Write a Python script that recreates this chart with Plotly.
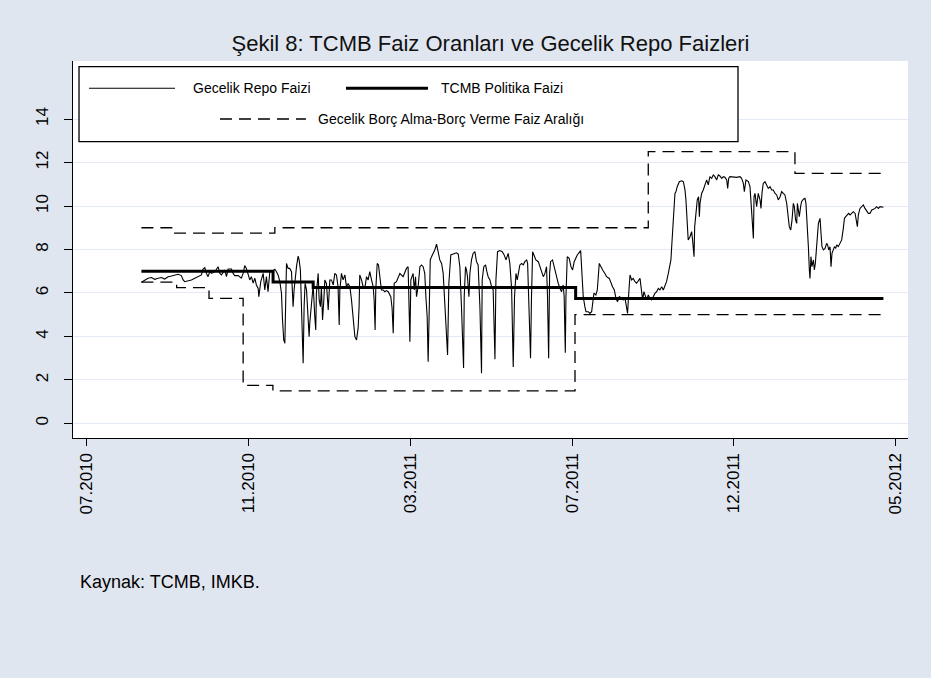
import plotly.graph_objects as go

# ---------------- data ----------------
tick_pos = [0, 100, 200, 300, 400, 500]
tick_labels = ["07.2010", "11.2010", "03.2011", "07.2011", "12.2011", "05.2012"]
y_ticks = [0, 2, 4, 6, 8, 10, 12, 14]

# TCMB policy rate (step)
policy_day = [33.7, 115.1, 139.9, 302.2, 492.5]
policy_rate = [7.0, 6.5, 6.25, 5.75, 5.75]

# Overnight lending (upper) / borrowing (lower) corridor (step)
upper_day = [33.7, 54.3, 116.2, 347.1, 437.8, 492.5]
upper_rate = [9.0, 8.75, 9.0, 12.5, 11.5, 11.5]
lower_day = [33.7, 55.5, 75.5, 96.6, 115.0, 301.8, 492.5]
lower_rate = [6.5, 6.25, 5.75, 1.75, 1.5, 5.0, 5.0]

# Overnight repo rate (trading-day index, %)
repo_obs = [
    (33.7, 6.49), (35.8, 6.60), (37.8, 6.68), (39.9, 6.71), (41.9, 6.63), (44.0, 6.68), (46.1, 6.71),
    (48.1, 6.64), (50.2, 6.75), (52.3, 6.78), (54.3, 6.83), (56.4, 6.86), (58.4, 6.80), (59.5, 6.60),
    (60.5, 6.52), (62.6, 6.55), (64.6, 6.60), (66.7, 6.68), (68.7, 6.75), (70.8, 6.83), (71.8, 7.10),
    (72.9, 7.16), (73.9, 6.90), (74.9, 6.75), (76.0, 6.98), (77.0, 6.90), (79.1, 6.98), (81.1, 7.21),
    (82.2, 6.90), (83.2, 6.83), (85.2, 7.06), (86.3, 6.75), (87.3, 7.10), (89.4, 7.10), (90.4, 6.90),
    (91.4, 6.80), (93.5, 6.80), (95.5, 6.68), (96.6, 6.90), (97.6, 7.26), (98.6, 7.13), (99.7, 6.83),
    (100.7, 6.60), (101.7, 6.75), (102.8, 6.45), (103.8, 6.68), (104.8, 6.37), (105.9, 6.21),
    (106.3, 5.83), (107.5, 6.52),
    (109.0, 6.90), (110.0, 6.14), (111.0, 6.75), (112.0, 6.06), (113.1, 6.98), (115.1, 7.03),
    (116.2, 7.09), (117.2, 6.98), (118.2, 6.83), (119.3, 6.52), (120.3, 5.99), (120.9, 4.84),
    (121.7, 3.84), (122.4, 3.69), (123.0, 5.37), (123.4, 7.36), (124.4, 7.13), (125.4, 7.13),
    (126.5, 6.98), (127.5, 5.37), (128.1, 6.14), (129.0, 6.90), (129.6, 7.21), (130.6, 7.70),
    (131.2, 7.52), (132.0, 7.06), (132.7, 5.55), (133.3, 4.61), (133.7, 2.77), (134.3, 5.37),
    (134.9, 6.44), (135.8, 6.14), (136.8, 5.07), (137.4, 3.99), (137.8, 4.61), (138.8, 5.68),
    (139.9, 6.37), (140.9, 4.91), (141.5, 4.30), (141.9, 5.99), (143.0, 6.90), (143.6, 5.68),
    (144.4, 5.37), (145.0, 6.29), (145.7, 4.76), (146.5, 5.68), (147.1, 6.60), (148.1, 6.44),
    (149.2, 5.22), (150.2, 6.60), (151.2, 6.60), (152.3, 6.37), (153.3, 6.90), (154.3, 6.83),
    (155.3, 6.29), (156.0, 4.53), (156.4, 6.14), (157.4, 6.90), (158.4, 6.60), (159.5, 6.83),
    (160.5, 6.29), (161.5, 6.44), (162.6, 6.29), (163.6, 5.68), (164.6, 4.76), (165.7, 3.99),
    (166.7, 3.84), (167.7, 4.38), (168.3, 5.37), (168.7, 6.83), (169.8, 6.60), (170.8, 6.29),
    (171.8, 6.21), (172.9, 6.75), (173.9, 6.60), (174.9, 6.98), (176.0, 6.60), (177.0, 6.29),
    (177.6, 5.68), (178.2, 4.30), (178.6, 6.14), (179.5, 7.36), (180.3, 7.29), (181.1, 6.60),
    (182.1, 6.14), (183.2, 6.14), (184.2, 6.06),
    (185.2, 6.11), (186.3, 6.06), (187.9, 5.83), (188.7, 5.30), (189.4, 4.15), (190.0, 6.45),
    (191.4, 6.52), (193.5, 6.90), (195.5, 6.75), (196.6, 6.98), (197.6, 7.13), (198.6, 7.21),
    (199.1, 5.68), (199.7, 3.76), (200.3, 6.60), (201.7, 6.90), (202.4, 6.14), (203.2, 6.75),
    (203.8, 5.83), (204.8, 6.29), (205.9, 7.21), (206.9, 7.29), (207.9, 7.21), (208.9, 6.90),
    (209.6, 5.83), (210.4, 4.91), (211.0, 2.84), (211.6, 6.14), (212.3, 7.52), (213.1, 7.67),
    (214.1, 7.82), (215.1, 7.98), (216.2, 8.25), (217.2, 7.82), (218.2, 7.52), (219.3, 7.36),
    (220.3, 6.90), (221.3, 5.52), (222.4, 3.99), (223.0, 3.15), (223.8, 6.45), (225.0, 7.75),
    (226.5, 7.79), (227.5, 7.82), (228.5, 7.85), (229.6, 7.79), (230.6, 7.21), (231.6, 5.37),
    (232.2, 4.30), (232.9, 2.55), (233.3, 5.83), (234.1, 7.21), (234.7, 7.06), (235.3, 6.75),
    (236.2, 5.83), (236.8, 6.90), (237.8, 7.52), (238.8, 7.82), (239.9, 7.90), (240.9, 7.44),
    (241.9, 7.29), (243.0, 5.37), (244.0, 2.31), (244.4, 6.60), (245.4, 7.21), (246.5, 7.29),
    (247.3, 6.98), (248.1, 6.75), (249.2, 6.60), (250.2, 6.29), (251.2, 6.14), (251.8, 4.76),
    (252.3, 2.95), (252.9, 6.60), (253.9, 7.90), (255.3, 7.95), (256.8, 7.90), (258.0, 7.75),
    (259.1, 7.52), (260.5, 7.82), (261.5, 7.36), (262.6, 6.21), (263.6, 2.60),
    (264.4, 5.83), (265.3, 6.90), (266.1, 6.60), (266.9, 7.06), (267.7, 7.29), (268.8, 7.36),
    (269.8, 7.29), (270.8, 7.44), (271.9, 7.52), (272.5, 7.36), (273.1, 5.83), (273.9, 4.30),
    (274.3, 3.00), (274.9, 5.83), (275.6, 7.90), (276.4, 7.75), (277.6, 7.52), (279.1, 7.44),
    (280.1, 7.21), (281.1, 7.06), (282.2, 6.75), (283.2, 6.90), (284.2, 7.21), (284.8, 5.83),
    (285.5, 3.00), (286.1, 6.90), (286.7, 7.44), (287.9, 7.52), (288.8, 7.21), (289.4, 6.98),
    (290.4, 6.75), (291.4, 6.45), (292.5, 6.21), (293.5, 6.06), (294.5, 6.37), (295.1, 5.83),
    (295.8, 3.25), (296.2, 5.83), (297.0, 7.67), (298.2, 7.59), (299.3, 7.21), (300.3, 7.06),
    (301.3, 7.44), (302.2, 7.59), (303.2, 7.75), (305.3, 7.95), (305.9, 7.06), (306.9, 5.83),
    (307.9, 5.37), (308.6, 5.14), (310.0, 5.14), (311.0, 5.06), (312.1, 5.14), (312.7, 5.68),
    (313.5, 5.99), (314.7, 5.91), (315.6, 6.14), (316.8, 7.36), (317.6, 7.21), (318.9, 7.06),
    (320.3, 6.90), (321.3, 6.75), (323.0, 6.67), (324.0, 6.45), (325.0, 6.29), (326.1, 6.14),
    (327.1, 5.76), (328.1, 5.60), (329.2, 5.83), (330.6, 5.76), (331.6, 5.68), (332.7, 5.76),
    (333.7, 5.22), (334.3, 5.06), (334.9, 5.83), (335.8, 6.83), (336.8, 6.60), (337.8, 6.67),
    (338.9, 6.52), (339.9, 6.45),
    (342.0, 6.67), (343.0, 6.14), (343.6, 5.68), (344.4, 6.06), (345.2, 5.83), (346.1, 5.68),
    (347.1, 5.91), (348.1, 5.76), (349.2, 5.68), (350.2, 5.83), (351.2, 5.98), (352.3, 6.06),
    (353.3, 6.21), (354.3, 6.14), (355.4, 6.29), (356.4, 6.14), (357.4, 6.37), (358.4, 6.52),
    (359.5, 6.90), (360.5, 7.21), (361.1, 7.52), (361.7, 8.28), (362.2, 9.05), (363.0, 9.82),
    (363.6, 10.58), (364.2, 10.66), (365.0, 10.89), (366.3, 11.12), (367.7, 11.16), (368.8, 11.12),
    (369.8, 10.74), (370.4, 10.28), (371.2, 9.05), (371.8, 8.44), (372.9, 8.59), (373.9, 8.82),
    (374.5, 8.44), (375.4, 7.67), (375.8, 9.05), (376.6, 9.82), (377.4, 10.28), (378.2, 10.43),
    (378.7, 9.51), (379.1, 10.12), (380.1, 10.58), (381.1, 10.74), (382.2, 11.04), (383.2, 11.20),
    (384.2, 10.97), (385.2, 11.35), (386.3, 11.27), (387.3, 11.43), (388.3, 11.35), (389.4, 11.20),
    (390.4, 11.43), (391.4, 11.38), (392.5, 11.27), (393.5, 11.35), (394.5, 11.32), (395.6, 11.20),
    (396.2, 10.81), (396.8, 11.27), (397.6, 11.35), (399.7, 11.32), (401.7, 11.32), (403.8, 11.35),
    (404.8, 11.27), (405.9, 11.04), (406.5, 10.66), (407.5, 11.20), (409.0, 11.12), (410.0, 10.89),
    (410.6, 10.28), (411.2, 9.51), (412.1, 8.51), (412.5, 10.43), (413.1, 10.58), (414.1, 9.97),
    (415.1, 10.58), (416.2, 10.28), (416.8, 9.89), (417.4, 10.58), (418.2, 11.04), (419.3, 11.12),
    (420.3, 10.97), (421.3, 10.81), (422.4, 10.89), (423.4, 10.74), (424.4, 10.74), (425.5, 10.58),
    (426.5, 10.51), (427.5, 10.28),
    (428.6, 10.43), (429.6, 10.66), (430.6, 10.58), (431.6, 10.51), (432.7, 10.12), (433.7, 9.51),
    (434.3, 9.05), (435.2, 8.90), (436.0, 9.36), (436.8, 10.12), (437.4, 9.97), (438.2, 9.36),
    (438.9, 9.20), (439.3, 10.12), (439.9, 9.82), (440.5, 9.51), (441.3, 9.97), (441.9, 10.20),
    (443.0, 10.31), (444.0, 10.35), (444.6, 10.12), (445.5, 9.20), (446.1, 8.13), (446.7, 7.06),
    (447.1, 6.67), (447.7, 7.67), (448.3, 7.21), (449.2, 7.52), (449.8, 7.06), (450.4, 7.36),
    (451.2, 8.28), (452.3, 9.20), (453.3, 9.43), (453.9, 8.90), (454.5, 8.13), (455.4, 7.98),
    (456.4, 8.05), (457.4, 8.28), (458.0, 8.21), (458.7, 7.98), (459.5, 8.13), (460.1, 7.21),
    (460.7, 7.82), (461.5, 7.98), (462.2, 8.13), (463.0, 8.05), (463.6, 8.21), (464.6, 8.13),
    (465.7, 8.28), (466.7, 8.44), (467.7, 8.97), (468.4, 9.43), (469.2, 9.51), (470.2, 9.59),
    (471.0, 9.66), (471.9, 9.59), (472.9, 9.66), (473.9, 9.74), (475.0, 9.66), (475.6, 9.36),
    (476.4, 9.05), (477.0, 9.59), (478.0, 9.89), (479.1, 9.97), (480.1, 10.05), (481.1, 9.89),
    (482.2, 9.74), (483.2, 9.66), (484.2, 9.66), (485.3, 9.82), (486.3, 9.85), (487.3, 9.89),
    (488.3, 9.97), (489.4, 9.89), (490.4, 9.97), (491.4, 9.97), (492.5, 9.94),
]
repo_day = [p[0] for p in repo_obs]
repo_rate = [p[1] for p in repo_obs]

legend_names = ["Gecelik Repo Faizi", "TCMB Politika Faizi",
                "Gecelik Borç Alma-Borç Verme Faiz Aralığı"]
title_text = "Şekil 8: TCMB Faiz Oranları ve Gecelik Repo Faizleri"
source_text = "Kaynak: TCMB, IMKB."

# ---------------- figure ----------------
FONT = "Liberation Sans, Arial, sans-serif"
BG = "#E0E6F0"
GRID = "#E4EAF3"
DASH = "12px,7px"

fig = go.Figure()
fig.add_trace(go.Scatter(x=upper_day, y=upper_rate, mode="lines", line_shape="hv",
                         line=dict(color="black", width=1.3, dash=DASH),
                         name=legend_names[2], showlegend=False, hoverinfo="skip"))
fig.add_trace(go.Scatter(x=lower_day, y=lower_rate, mode="lines", line_shape="hv",
                         line=dict(color="black", width=1.3, dash=DASH),
                         name=legend_names[2], showlegend=False, hoverinfo="skip"))
fig.add_trace(go.Scatter(x=repo_day, y=repo_rate, mode="lines",
                         line=dict(color="black", width=1.1),
                         name=legend_names[0], showlegend=False))
fig.add_trace(go.Scatter(x=policy_day, y=policy_rate, mode="lines", line_shape="hv",
                         line=dict(color="black", width=3),
                         name=legend_names[1], showlegend=False))

# manual Stata-style legend box
LEG_FONT = dict(size=14, family=FONT, color="black")
shapes = [
    dict(type="rect", xref="paper", yref="paper", x0=0.0072, x1=0.7964, y0=0.786, y1=0.985,
         line=dict(color="black", width=1.3), fillcolor="white", layer="above"),
    dict(type="line", xref="paper", yref="paper", x0=0.0192, x1=0.1222, y0=0.9276, y1=0.9276,
         line=dict(color="black", width=1.1), layer="above"),
    dict(type="line", xref="paper", yref="paper", x0=0.3269, x1=0.4251, y0=0.9276, y1=0.9276,
         line=dict(color="black", width=3), layer="above"),
    dict(type="line", xref="paper", yref="paper", x0=0.1760, x1=0.2790, y0=0.8462, y1=0.8462,
         line=dict(color="black", width=1.3, dash=DASH), layer="above"),
]
annotations = [
    dict(text=legend_names[0], x=0.1413, y=0.9276, xref="paper", yref="paper",
         xanchor="left", yanchor="middle", showarrow=False, font=LEG_FONT),
    dict(text=legend_names[1], x=0.4383, y=0.9276, xref="paper", yref="paper",
         xanchor="left", yanchor="middle", showarrow=False, font=LEG_FONT),
    dict(text=legend_names[2], x=0.2916, y=0.8462, xref="paper", yref="paper",
         xanchor="left", yanchor="middle", showarrow=False, font=LEG_FONT),
    dict(text=source_text, x=0.006, y=-0.382, xref="paper", yref="paper",
         xanchor="left", yanchor="middle", showarrow=False, font=dict(size=18, family=FONT, color="black")),
]

fig.update_layout(
    width=931, height=678,
    paper_bgcolor=BG, plot_bgcolor="white",
    margin=dict(l=73, r=23, t=61, b=240),
    font=dict(family=FONT, color="black"),
    title=dict(text=title_text, x=0.5, xref="paper", xanchor="center",
               y=1 - 43 / 678, yref="container", yanchor="middle",
               font=dict(size=22, family=FONT, color="#111111")),
    shapes=shapes, annotations=annotations, showlegend=False,
    xaxis=dict(range=[-8.6, 507.7], tickmode="array", tickvals=tick_pos, ticktext=tick_labels,
               tickangle=-90, ticks="outside", ticklen=7, tickwidth=1.3, tickcolor="black",
               showline=True, linecolor="black", linewidth=1.3, showgrid=False, zeroline=False,
               tickfont=dict(size=17, family=FONT, color="black")),
    yaxis=dict(range=[-0.67, 16.67], tickmode="array", tickvals=y_ticks,
               tickangle=-90, ticks="outside", ticklen=8, tickwidth=1.3, tickcolor="black",
               ticklabelstandoff=9,
               showline=True, linecolor="black", linewidth=1.3, showgrid=True, gridcolor=GRID,
               gridwidth=1.2, zeroline=False,
               tickfont=dict(size=17, family=FONT, color="black")),
)

fig.write_html("out.html", config={"displayModeBar": False},
               post_script="document.body.style.margin='0';document.body.style.padding='0';"
                           "document.body.style.background='" + BG + "';")
